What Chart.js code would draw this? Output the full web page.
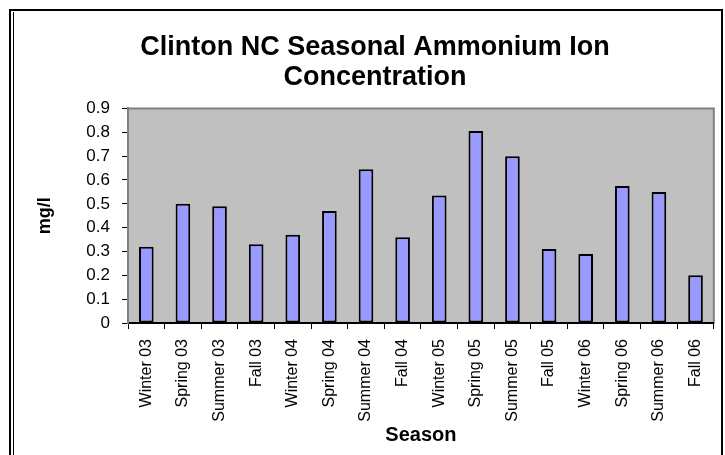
<!DOCTYPE html>
<html>
<head>
<meta charset="utf-8">
<script src="https://cdn.jsdelivr.net/npm/chart.js@4"></script>
<style>
  html, body { margin: 0; padding: 0; background: #fff; }
  #wrap { width: 725px; height: 455px; }
</style>
</head>
<body>
<div id="wrap"><canvas id="chart" width="725" height="455"></canvas></div>
<script>
// Chart data
const seasons = ['Winter 03', 'Spring 03', 'Summer 03', 'Fall 03', 'Winter 04', 'Spring 04',
  'Summer 04', 'Fall 04', 'Winter 05', 'Spring 05', 'Summer 05', 'Fall 05',
  'Winter 06', 'Spring 06', 'Summer 06', 'Fall 06'];
const ammonium = [0.32, 0.50, 0.49, 0.33, 0.37, 0.47, 0.645, 0.36, 0.535, 0.805, 0.70, 0.31,
  0.29, 0.575, 0.55, 0.20];
const titleLines = ['Clinton NC Seasonal Ammonium Ion', 'Concentration'];
const yTicks = { min: 0, max: 0.9, step: 0.1 };

const FONT = "'Liberation Sans', Arial, sans-serif";

// Grey plot area plus the outer frame of the picture
const backdrop = {
  id: 'backdrop',
  beforeDraw(chart) {
    const { ctx, chartArea: a } = chart;
    ctx.save();
    ctx.fillStyle = '#c0c0c0';
    ctx.fillRect(a.left, a.top, a.right - a.left, a.bottom - a.top);
    ctx.strokeStyle = '#808080';
    ctx.lineWidth = 2;
    ctx.strokeRect(a.left, a.top, a.right - a.left, a.bottom - a.top);
    // outer frame, doubled on the left side
    ctx.strokeStyle = '#000';
    ctx.lineWidth = 2;
    ctx.strokeRect(10, 10, 712, 470);
    ctx.lineWidth = 1;
    ctx.beginPath();
    ctx.moveTo(13.5, 12);
    ctx.lineTo(13.5, 455);
    ctx.stroke();
    ctx.restore();
  }
};

new Chart(document.getElementById('chart'), {
  type: 'bar',
  data: {
    labels: seasons,
    datasets: [{
      data: ammonium,
      backgroundColor: '#9999ff',
      borderColor: '#000',
      borderWidth: 2,
      borderSkipped: false,
      barPercentage: 0.4,
      categoryPercentage: 1
    }]
  },
  options: {
    responsive: false,
    animation: false,
    layout: { padding: { left: 34, right: 9, top: 0, bottom: 0 } },
    plugins: {
      legend: { display: false },
      tooltip: { enabled: false },
      title: {
        display: true,
        text: titleLines,
        color: '#000',
        font: { family: FONT, size: 27, weight: 'bold', lineHeight: 1.12 },
        padding: { top: 32, bottom: 16 }
      }
    },
    scales: {
      x: {
        grid: { offset: true, drawOnChartArea: false, color: '#000', tickLength: 6 },
        border: { color: '#000', width: 2 },
        ticks: {
          color: '#000', font: { family: FONT, size: 16 },
          maxRotation: 90, minRotation: 90, autoSkip: false, padding: 10
        },
        title: {
          display: true, text: 'Season', color: '#000',
          font: { family: FONT, size: 20, weight: 'bold' },
          padding: { top: 0, bottom: 8 }
        },
        afterFit(scale) { scale.height = 132; }
      },
      y: {
        min: yTicks.min,
        max: yTicks.max,
        grid: { drawOnChartArea: false, color: '#000', tickLength: 6 },
        border: { color: '#808080', width: 2 },
        ticks: {
          stepSize: yTicks.step, color: '#000', padding: 12,
          font: { family: FONT, size: 17 },
          callback: v => String(+v.toFixed(1))
        },
        title: {
          display: true, text: 'mg/l', color: '#000',
          font: { family: FONT, size: 18, weight: 'bold' },
          padding: { top: 0, bottom: 0 }
        },
        afterFit(scale) { scale.width = 94; }
      }
    }
  },
  plugins: [backdrop]
});
</script>
</body>
</html>
